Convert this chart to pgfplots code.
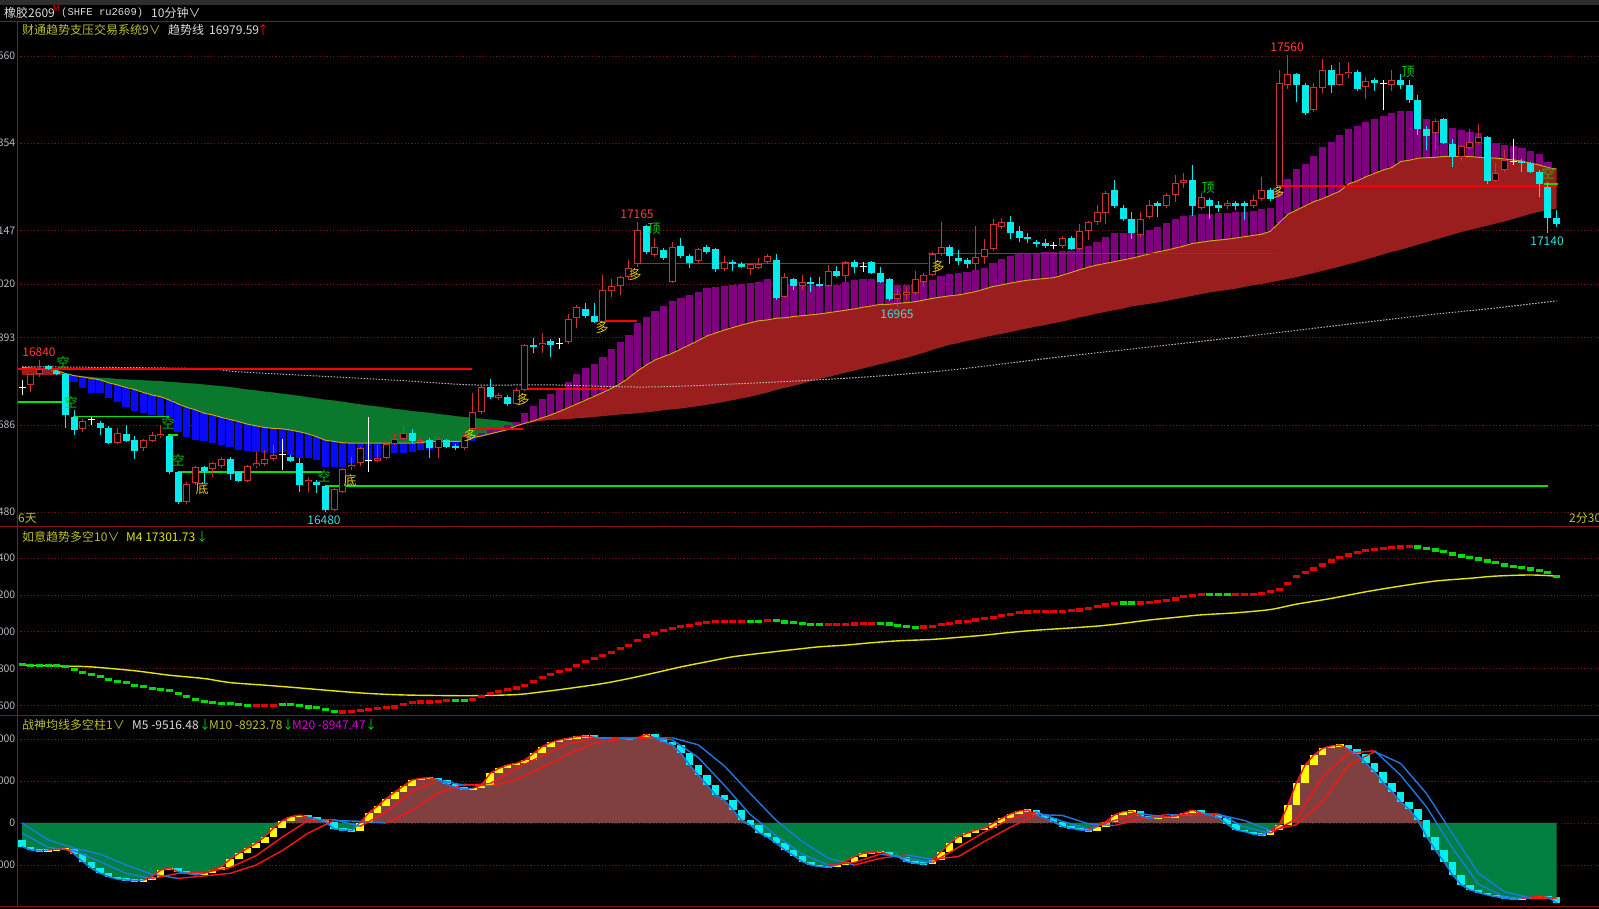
\documentclass[border=0pt]{standalone}
\usepackage{fontspec}
\setmainfont{Noto Sans CJK SC}
\newfontfamily\mono{Liberation Mono}
\usepackage{pgfplots}
\usepackage{pgfplotstable}
\pgfplotsset{compat=1.18}

\definecolor{gridc}{RGB}{115,20,20}
\definecolor{borderc}{RGB}{140,20,20}
\definecolor{tickc}{RGB}{185,185,195}
\definecolor{hdr}{RGB}{190,190,50}
\definecolor{candred}{RGB}{205,50,50}
\definecolor{candcyan}{RGB}{0,235,235}
\definecolor{barpurple}{RGB}{128,0,128}
\definecolor{barblue}{RGB}{10,10,250}
\definecolor{cloudred}{RGB}{155,30,30}
\definecolor{cloudgreen}{RGB}{10,120,45}
\definecolor{aline}{RGB}{210,165,0}
\definecolor{lred}{RGB}{255,0,0}
\definecolor{lgreen}{RGB}{0,230,0}
\definecolor{dline}{RGB}{185,185,185}
\definecolor{labred}{RGB}{255,60,60}
\definecolor{labcyan}{RGB}{60,220,220}
\definecolor{sigyellow}{RGB}{230,200,0}
\definecolor{siggreen}{RGB}{0,200,0}
\definecolor{myellow}{RGB}{230,230,0}
\definecolor{mred}{RGB}{230,0,0}
\definecolor{mgreen}{RGB}{0,220,0}
\definecolor{brn}{RGB}{128,64,64}
\definecolor{grn}{RGB}{0,128,64}
\definecolor{byellow}{RGB}{255,255,0}
\definecolor{bcyan}{RGB}{0,240,240}
\definecolor{rline}{RGB}{255,20,20}
\definecolor{bline}{RGB}{30,120,230}
\definecolor{mag}{RGB}{220,0,220}
\definecolor{textw}{RGB}{220,220,220}

\pgfplotsset{
  colormap={rb}{color=(bline) color=(rline)},
  panel/.style={
    scale only axis, anchor=south west, width=1582pt,
    xmin=-0.577, xmax=181.89,
    axis line style={draw=none},
    major tick length=0pt,
    xtick=\empty,
    scaled y ticks=false,
    ymajorgrids,
    grid style={draw=gridc, line width=0.8pt, dash pattern=on 1.2pt off 2.2pt},
    yticklabel style={font=\fontsize{10.5}{12}\selectfont, text=tickc, anchor=east, inner sep=0pt, xshift=-1.5pt},
    clip=true,
  },
  ebar/.style 2 args={draw=none, mark=none, forget plot,
    error bars/.cd, y dir=both, y explicit, error mark=none,
    error bar style={draw=#1, line width=#2}},
}

% candles: index, open, high, low, close, fast edge a, bar end t, slow edge b
\pgfplotstableread{
i o h l c a t b
0 16775 16793 16757 16775 16822 16822 16805
1 16781 16808 16765 16808 16821 16821 16805
2 16807 16840 16800 16818 16820 16820 16805
3 16826 16828 16816 16818 16818 16818 16805
4 16815 16817 16805 16807 16815 16815 16804
5 16808 16810 16680 16710 16808 16789 16804
6 16704 16722 16662 16674 16803 16789 16803
7 16676 16700 16670 16696 16800 16773 16801
8 16698 16706 16686 16698 16796 16761 16800
9 16691 16695 16662 16680 16793 16761 16798
10 16680 16684 16640 16644 16786 16749 16797
11 16644 16680 16640 16666 16781 16741 16795
12 16666 16686 16645 16649 16775 16728 16794
13 16650 16660 16605 16624 16770 16720 16793
14 16631 16652 16625 16650 16763 16714 16792
15 16648 16670 16645 16662 16757 16710 16791
16 16660 16686 16656 16666 16753 16707 16790
17 16661 16665 16570 16575 16745 16702 16788
18 16575 16578 16500 16504 16736 16670 16787
19 16504 16550 16500 16546 16728 16657 16785
20 16549 16590 16545 16586 16722 16650 16784
21 16586 16590 16549 16578 16714 16647 16782
22 16581 16598 16564 16595 16710 16644 16780
23 16589 16611 16585 16605 16704 16639 16778
24 16605 16611 16556 16571 16699 16635 16776
25 16575 16578 16550 16554 16694 16627 16773
26 16554 16592 16550 16590 16688 16625 16770
27 16589 16623 16585 16595 16684 16623 16768
28 16594 16627 16590 16605 16680 16620 16765
29 16605 16639 16600 16614 16678 16619 16763
30 16615 16654 16579 16615 16677 16623 16760
31 16611 16615 16598 16601 16674 16615 16758
32 16595 16607 16528 16545 16670 16607 16755
33 16550 16564 16528 16556 16665 16607 16752
34 16550 16555 16524 16545 16658 16602 16749
35 16541 16545 16480 16485 16650 16587 16746
36 16485 16538 16482 16534 16647 16586 16744
37 16528 16585 16525 16581 16644 16587 16741
38 16586 16611 16579 16591 16643 16595 16738
39 16595 16635 16590 16631 16643 16599 16735
40 16601 16704 16575 16601 16643 16599 16732
41 16601 16639 16598 16609 16643 16611 16730
42 16609 16645 16605 16641 16643 16611 16727
43 16642 16666 16638 16654 16643 16619 16724
44 16654 16686 16650 16666 16643 16619 16722
45 16666 16676 16644 16647 16643 16623 16719
46 16647 16655 16642 16651 16644 16627 16717
47 16651 16655 16607 16631 16647 16627 16715
48 16631 16658 16607 16654 16647 16635 16712
49 16650 16653 16632 16635 16647 16633 16710
50 16637 16640 16628 16631 16647 16636 16707
51 16631 16664 16628 16660 16648 16639 16705
52 16676 16761 16674 16716 16656 16648 16703
53 16716 16779 16712 16775 16660 16668 16701
54 16777 16795 16748 16752 16665 16674 16699
55 16751 16761 16745 16757 16670 16680 16697
56 16752 16756 16732 16736 16675 16686 16694
57 16736 16773 16733 16770 16684 16692 16690
58 16770 16879 16766 16875 16690 16714 16690
59 16875 16891 16856 16870 16696 16731 16693
60 16875 16905 16856 16881 16703 16747 16696
61 16886 16890 16846 16875 16710 16759 16698
62 16879 16891 16867 16879 16718 16771 16699
63 16883 16950 16878 16936 16727 16789 16700
64 16940 16970 16916 16966 16736 16807 16702
65 16961 16974 16940 16945 16745 16820 16703
66 16945 16974 16928 16931 16754 16831 16705
67 16931 17041 16928 17006 16763 16848 16707
68 17004 17031 16990 17016 16773 16865 16709
69 17016 17040 16995 17036 16784 16882 16711
70 17036 17077 17030 17059 16798 16899 16712
71 17067 17166 17060 17149 16814 16927 16714
72 17157 17160 17090 17097 16828 16943 16716
73 17089 17128 17085 17107 16840 16957 16718
74 17100 17105 17076 17081 16848 16968 16721
75 17025 17120 17022 17107 16856 16980 16723
76 17111 17128 17082 17086 16866 16988 16725
77 17086 17090 17059 17070 16876 16994 16728
78 17075 17105 17070 17102 16886 17002 16731
79 17107 17112 17092 17097 16897 17010 16734
80 17102 17106 17049 17055 16904 17012 16737
81 17055 17086 17050 17071 16911 17015 16741
82 17073 17076 17052 17067 16917 17018 16745
83 17067 17071 17058 17061 16923 17020 16749
84 17055 17070 17041 17067 16928 17023 16753
85 17059 17081 17055 17067 16933 17025 16758
86 17071 17091 17068 17086 16935 17031 16763
87 17077 17091 16982 16986 16939 17025 16769
88 16990 17045 16987 17036 16940 17020 16774
89 17031 17034 17005 17016 16943 17018 16779
90 17016 17041 17005 17025 16945 17018 16784
91 17025 17036 17002 17019 16947 17018 16790
92 17021 17036 17013 17016 16949 17018 16795
93 17016 17065 17012 17051 16952 17018 16800
94 17051 17062 17036 17040 16955 17018 16805
95 17040 17075 17025 17071 16958 17025 16810
96 17071 17076 17045 17061 16961 17029 16815
97 17061 17073 17049 17061 16965 17032 16820
98 17071 17075 17044 17047 16968 17031 16825
99 17047 17060 17022 17025 16972 17025 16830
100 17031 17035 16980 16984 16972 17020 16835
101 16984 17007 16965 16996 16974 17018 16840
102 16995 17014 16982 17001 16976 17018 16845
103 16999 17051 16995 17031 16978 17020 16851
104 17025 17045 17014 17041 16982 17025 16857
105 17041 17096 17038 17090 16986 17029 16864
106 17090 17166 17086 17107 16989 17039 16870
107 17107 17112 17067 17086 16992 17044 16876
108 17081 17100 17065 17075 16994 17047 16880
109 17077 17081 17059 17067 16998 17048 16885
110 17067 17157 17052 17085 17002 17052 16889
111 17085 17127 17067 17102 17008 17057 16894
112 17102 17175 17098 17162 17014 17069 16898
113 17156 17177 17150 17166 17018 17079 16902
114 17166 17181 17127 17140 17022 17086 16906
115 17146 17157 17120 17130 17026 17091 16911
116 17132 17140 17116 17126 17029 17093 16915
117 17120 17124 17108 17115 17031 17094 16919
118 17116 17126 17106 17110 17033 17095 16923
119 17112 17120 17104 17112 17035 17097 16927
120 17110 17134 17106 17130 17041 17097 16931
121 17130 17133 17100 17104 17047 17099 16936
122 17104 17162 17100 17146 17054 17104 16941
123 17146 17170 17124 17166 17060 17110 16945
124 17166 17207 17160 17191 17065 17120 16950
125 17187 17240 17162 17236 17069 17132 16954
126 17243 17266 17200 17205 17073 17140 16958
127 17201 17207 17170 17174 17077 17142 16962
128 17175 17191 17126 17140 17081 17144 16967
129 17136 17191 17132 17175 17086 17146 16970
130 17179 17220 17175 17207 17091 17149 16973
131 17213 17216 17179 17205 17096 17156 16976
132 17205 17236 17200 17231 17100 17164 16980
133 17231 17278 17215 17260 17105 17173 16984
134 17260 17282 17247 17266 17110 17182 16988
135 17266 17302 17180 17205 17116 17183 16992
136 17201 17235 17196 17225 17119 17187 16996
137 17220 17224 17175 17205 17122 17187 17000
138 17207 17216 17191 17201 17124 17189 17003
139 17205 17220 17197 17213 17126 17189 17006
140 17213 17216 17195 17205 17129 17191 17009
141 17213 17216 17172 17205 17132 17191 17013
142 17205 17231 17200 17220 17135 17194 17017
143 17221 17273 17216 17243 17138 17198 17020
144 17243 17247 17217 17221 17145 17199 17024
145 17252 17527 17248 17497 17165 17240 17028
146 17491 17562 17481 17517 17185 17268 17032
147 17517 17520 17452 17491 17195 17292 17036
148 17491 17495 17420 17426 17205 17304 17041
149 17431 17497 17428 17487 17215 17323 17046
150 17484 17552 17472 17527 17222 17344 17051
151 17527 17539 17472 17491 17231 17357 17056
152 17491 17545 17488 17517 17240 17373 17061
153 17517 17547 17507 17523 17257 17387 17067
154 17523 17526 17478 17481 17264 17394 17072
155 17486 17511 17457 17502 17274 17404 17078
156 17502 17507 17478 17495 17282 17411 17084
157 17495 17503 17431 17495 17290 17418 17090
158 17491 17527 17477 17502 17296 17424 17096
159 17502 17517 17481 17491 17310 17429 17101
160 17491 17502 17448 17456 17313 17429 17107
161 17457 17468 17373 17386 17318 17412 17113
162 17386 17393 17337 17371 17319 17410 17119
163 17377 17410 17337 17407 17320 17407 17125
164 17410 17413 17352 17355 17322 17410 17131
165 17352 17363 17296 17320 17322 17390 17137
166 17320 17350 17312 17347 17322 17385 17143
167 17341 17386 17337 17357 17322 17380 17148
168 17353 17400 17350 17367 17320 17377 17153
169 17367 17370 17257 17265 17319 17365 17158
170 17265 17306 17262 17282 17318 17355 17163
171 17290 17337 17286 17314 17316 17349 17168
172 17310 17363 17302 17310 17314 17347 17174
173 17312 17316 17286 17307 17311 17341 17180
174 17307 17310 17282 17286 17306 17336 17186
175 17286 17290 17227 17257 17302 17328 17191
176 17250 17262 17140 17176 17296 17310 17195
177 17176 17195 17156 17161 17292 17292 17199
}\pk

% trend line (dotted)
\pgfplotstableread{
i d
0 16824
20 16820
25 16812
36 16800
44 16791
52 16781
61 16781
72 16776
84 16785
96 16798
107 16816
120 16848
139 16891
161 16944
169 16961
177 16980
}\pd

% panel 2: M4 line
\pgfplotstableread{
i y
0 16819
5 16814
8 16810
13 16789
17 16765
21 16747
24 16725
28 16711
32 16696
36 16680
40 16666
44 16658
48 16655
52 16654
57 16660
60 16675
63 16693
67 16720
70 16747
73 16778
76 16810
79 16838
82 16865
86 16888
89 16904
92 16919
95 16928
98 16941
101 16951
105 16959
108 16970
111 16982
114 16997
117 17009
120 17018
124 17031
127 17046
130 17064
133 17078
136 17092
140 17103
144 17121
147 17150
151 17181
155 17217
159 17248
163 17275
167 17290
170 17302
174 17308
177 17302
}\pmy

% panel 2: steps, u=1 rising (red), u=0 falling (green)
\pgfplotstableread{
i v u
0 16825 0
1 16819 0
2 16819 0
3 16819 0
4 16818 0
5 16810 0
6 16796 0
7 16778 0
8 16769 0
9 16756 0
10 16743 0
11 16731 0
12 16724 0
13 16711 0
14 16702 0
15 16693 0
16 16687 0
17 16680 0
18 16666 0
19 16648 0
20 16633 0
21 16624 0
22 16617 0
23 16611 0
24 16611 0
25 16606 0
26 16602 0
27 16599 1
28 16599 1
29 16602 1
30 16606 0
31 16606 0
32 16600 0
33 16593 0
34 16588 0
35 16579 0
36 16568 0
37 16566 1
38 16568 1
39 16573 1
40 16579 1
41 16584 1
42 16588 1
43 16593 1
44 16606 1
45 16615 1
46 16620 1
47 16620 1
48 16622 1
49 16626 1
50 16628 0
51 16629 0
52 16635 1
53 16648 1
54 16666 1
55 16677 1
56 16687 1
57 16696 1
58 16711 1
59 16733 1
60 16753 1
61 16769 1
62 16783 1
63 16798 1
64 16819 1
65 16839 1
66 16856 1
67 16870 1
68 16890 1
69 16908 1
70 16926 1
71 16951 1
72 16977 1
73 16991 1
74 17009 1
75 17018 1
76 17027 1
77 17036 1
78 17044 1
79 17051 1
80 17056 1
81 17056 1
82 17058 1
83 17058 1
84 17058 0
85 17058 0
86 17062 1
87 17060 0
88 17053 0
89 17049 0
90 17045 0
91 17040 0
92 17038 0
93 17038 1
94 17038 1
95 17040 1
96 17042 1
97 17044 1
98 17045 1
99 17045 0
100 17042 0
101 17036 0
102 17029 0
103 17024 0
104 17026 1
105 17031 1
106 17040 1
107 17047 1
108 17053 1
109 17058 1
110 17064 1
111 17071 1
112 17078 1
113 17087 1
114 17096 1
115 17103 1
116 17107 1
117 17109 1
118 17111 1
119 17111 1
120 17112 1
121 17114 1
122 17118 1
123 17127 1
124 17136 1
125 17145 1
126 17152 1
127 17156 0
128 17156 0
129 17156 1
130 17161 1
131 17165 1
132 17170 1
133 17178 1
134 17190 1
135 17197 1
136 17201 1
137 17203 0
138 17203 0
139 17203 0
140 17203 1
141 17201 1
142 17203 1
143 17208 1
144 17217 1
145 17230 1
146 17262 1
147 17299 1
148 17320 1
149 17340 1
150 17362 1
151 17384 1
152 17402 1
153 17416 1
154 17431 1
155 17440 1
156 17447 1
157 17452 1
158 17456 1
159 17460 1
160 17461 1
161 17460 0
162 17452 0
163 17443 0
164 17434 0
165 17422 0
166 17411 0
167 17404 0
168 17395 0
169 17384 0
170 17375 0
171 17362 0
172 17353 0
173 17348 0
174 17340 0
175 17331 0
176 17320 0
177 17299 0
}\pmk

% panel 3: M5 (m) and previous value (q)
\pgfplotstableread{
i m q
0 -2816 -2000
1 -3213 -2816
2 -3290 -3213
3 -3213 -3290
4 -3134 -3213
5 -3100 -3134
6 -3690 -3100
7 -4600 -3690
8 -5395 -4600
9 -5990 -5395
10 -6387 -5990
11 -6705 -6387
12 -6784 -6705
13 -6863 -6784
14 -6800 -6863
15 -6387 -6800
16 -5594 -6387
17 -5396 -5594
18 -5792 -5396
19 -5990 -5792
20 -6190 -5990
21 -5990 -6190
22 -5594 -5990
23 -5197 -5594
24 -4323 -5197
25 -3610 -4323
26 -3015 -3610
27 -2420 -3015
28 -1626 -2420
29 -634 -1626
30 278 -634
31 755 278
32 953 755
33 675 953
34 437 675
35 160 437
36 -713 160
37 -833 -713
38 -912 -833
39 40 -912
40 1232 40
41 2025 1232
42 2900 2025
43 3700 2900
44 4406 3700
45 5120 4406
46 5318 5120
47 5398 5318
48 5120 5398
49 4644 5120
50 4247 4644
51 4009 4247
52 4128 4009
53 4525 4128
54 5914 4525
55 6509 5914
56 6906 6509
57 7104 6906
58 7501 7104
59 8295 7501
60 9088 8295
61 9604 9088
62 9882 9604
63 10080 9882
64 10279 10080
65 10358 10279
66 10199 10358
67 10080 10199
68 10100 10080
69 10080 10100
70 10060 10080
71 10120 10060
72 10556 10120
73 10080 10556
74 9683 10080
75 9287 9683
76 8295 9287
77 6906 8295
78 5716 6906
79 4525 5716
80 3334 4525
81 2740 3334
82 1549 2740
83 359 1549
84 -237 359
85 -1150 -237
86 -1705 -1150
87 -2419 -1705
88 -3213 -2419
89 -3888 -3213
90 -4601 -3888
91 -5000 -4601
92 -5197 -5000
93 -5276 -5197
94 -5000 -5276
95 -4601 -5000
96 -4006 -4601
97 -3610 -4006
98 -3530 -3610
99 -3411 -3530
100 -3808 -3411
101 -4006 -3808
102 -4601 -4006
103 -4800 -4601
104 -4879 -4800
105 -4403 -4879
106 -3411 -4403
107 -2419 -3411
108 -1626 -2419
109 -1230 -1626
110 -833 -1230
111 -634 -833
112 -40 -634
113 557 -40
114 1073 557
115 1430 1073
116 1549 1430
117 954 1549
118 557 954
119 160 557
120 -435 160
121 -634 -435
122 -833 -634
123 -912 -833
124 -435 -912
125 160 -435
126 954 160
127 1351 954
128 1400 1351
129 835 1400
130 557 835
131 676 557
132 756 676
133 835 756
134 1152 835
135 1549 1152
136 1200 1549
137 950 1200
138 650 950
139 -150 650
140 -840 -150
141 -1030 -840
142 -1350 -1030
143 -1430 -1350
144 -830 -1430
145 -240 -830
146 2145 -240
147 4804 2145
148 6908 4804
149 8098 6908
150 8890 8098
151 9170 8890
152 9290 9170
153 8770 9290
154 8217 8770
155 7106 8217
156 6114 7106
157 4804 6114
158 3733 4804
159 2543 3733
160 1630 2543
161 360 1630
162 -1624 360
163 -3211 -1624
164 -4600 -3211
165 -6190 -4600
166 -7377 -6190
167 -7973 -7377
168 -8290 -7973
169 -8568 -8290
170 -8766 -8568
171 -8965 -8766
172 -9083 -8965
173 -8965 -9083
174 -8846 -8965
175 -8766 -8846
176 -8846 -8766
177 -9516 -8846
}\pc

% M10 and M20, r=1 rising (red), r=0 falling (blue)
\pgfplotstableread{
i v r
0 -1200 0
3 -2900 0
6 -3300 0
9 -4600 0
12 -6000 0
15 -6600 1
18 -6000 1
21 -5900 1
24 -5300 1
27 -3900 1
30 -1700 1
33 300 1
36 400 0
39 -400 1
42 1300 1
45 3800 1
48 5100 0
51 4500 1
54 4700 1
57 6500 1
60 8000 1
63 9400 1
66 10100 1
69 10150 1
72 10200 0
75 9900 0
78 7800 0
81 4500 0
84 1000 0
87 -1500 0
90 -3700 0
93 -5000 1
96 -4700 1
99 -3700 0
102 -4200 0
105 -4700 1
108 -2900 1
111 -1100 1
114 500 1
117 1300 0
120 200 0
123 -700 1
126 300 1
129 1100 0
132 700 1
135 1100 1
138 1100 0
141 -500 0
144 -1200 1
147 500 1
150 5500 1
153 8300 1
156 8600 0
159 5700 0
162 1900 0
165 -3000 0
168 -7300 0
171 -8800 0
174 -9000 1
177 -8924 1
}\pten

\pgfplotstableread{
i v r
0 0 0
3 -2000 0
6 -3000 0
9 -3700 0
12 -5000 0
15 -6100 0
18 -6600 1
21 -6300 1
24 -6000 1
27 -5000 1
30 -3300 1
33 -1200 1
36 300 0
39 200 0
42 0 1
45 1500 1
48 3600 1
51 4600 0
54 4400 1
57 5200 1
60 6600 1
63 8200 1
66 9500 1
69 10000 1
72 10100 1
75 10150 0
78 9300 0
81 6800 0
84 3500 0
87 300 0
90 -2200 0
93 -4200 0
96 -5000 1
99 -4200 1
102 -3800 0
105 -4300 1
108 -4000 1
111 -2200 1
114 -500 1
117 1000 0
120 900 0
123 -100 0
126 -300 1
129 500 1
132 1000 0
135 900 1
138 1000 0
141 300 0
144 -900 1
147 -200 1
150 2500 1
153 6900 1
156 8500 0
159 7100 0
162 3500 0
165 -1300 0
168 -6000 0
171 -8200 0
174 -8900 1
177 -8947 1
}\ptw

\begin{document}
\begin{tikzpicture}
\fill[black] (0pt,0pt) rectangle (1599pt,909pt);
\fill[black!82] (0pt,904pt) rectangle (1599pt,909pt);

% ---------------- panel 1: candles and trend system
\begin{axis}[panel, at={(17pt,382pt)}, height=505pt,
  ymin=16444.5, ymax=17640.5,
  ytick={16480,16686,16893,17020,17147,17354,17560},
  yticklabels={16480,16686,16893,17020,17147,17354,17560}]
% cloud between slow edge b and fast edge a (stacked areas)
\addplot[draw=none, stack plots=y, forget plot] table[x=i, y=b]{\pk};
\addplot[fill=cloudred, draw=none, stack plots=y, forget plot]
  table[x=i, y expr={max(\thisrow{a}-\thisrow{b},0)}]{\pk} \closedcycle;
\addplot[fill=cloudgreen, draw=none, stack plots=y, forget plot]
  table[x=i, y expr={min(\thisrow{a}-\thisrow{b},0)}]{\pk} \closedcycle;
% bars from the fast edge
\addplot[restrict expr to domain={\thisrow{a}-\thisrow{t}}{0.5:9999}, ebar={barblue}{7.2pt}]
  table[x=i, y expr={(\thisrow{a}+\thisrow{t})/2}, y error expr={(\thisrow{a}-\thisrow{t})/2}]{\pk};
\addplot[restrict expr to domain={\thisrow{t}-\thisrow{a}}{0.5:9999}, ebar={barpurple}{7.2pt}]
  table[x=i, y expr={(\thisrow{a}+\thisrow{t})/2}, y error expr={(\thisrow{t}-\thisrow{a})/2}]{\pk};
\addplot[aline, line width=1pt, forget plot] table[x=i,y=a]{\pk};
\addplot[dline, line width=1pt, dash pattern=on 1.5pt off 1.5pt, smooth, forget plot] table[x=i,y=d]{\pd};
% support and resistance lines
\draw[lred, line width=1.5pt] (axis cs:-0.6,16819) -- (axis cs:51.9,16819);
\draw[lred, line width=1.5pt] (axis cs:51.9,16676) -- (axis cs:57.8,16676);
\draw[lred, line width=1.5pt] (axis cs:57.8,16771) -- (axis cs:67.5,16771);
\draw[lred, line width=1.5pt] (axis cs:66.9,16932) -- (axis cs:70.9,16932);
\draw[lred, line width=1.5pt] (axis cs:71,17069) -- (axis cs:104.5,17069);
\draw[lred, line width=1.5pt] (axis cs:104.5,17092) -- (axis cs:145,17092);
\draw[lred, line width=1.5pt] (axis cs:145,17252) -- (axis cs:177,17252);
\draw[lgreen, line width=1.5pt] (axis cs:-0.6,16741) -- (axis cs:5,16741);
\draw[lgreen, line width=1.5pt] (axis cs:5.9,16706) -- (axis cs:17,16706);
\draw[lgreen, line width=1.5pt] (axis cs:16.8,16662) -- (axis cs:18,16662);
\draw[lgreen, line width=1.5pt] (axis cs:18,16575) -- (axis cs:34.6,16575);
\draw[lgreen, line width=1.5pt] (axis cs:35,16542) -- (axis cs:176,16542);
\draw[lgreen, line width=1.5pt] (axis cs:175.5,17257) -- (axis cs:177.2,17257);
% up candles: hollow red
\addplot[restrict expr to domain={\thisrow{c}-\thisrow{o}}{0.5:9999}, ebar={candred}{1pt}]
  table[x=i, y expr={(\thisrow{h}+\thisrow{l})/2}, y error expr={(\thisrow{h}-\thisrow{l})/2}]{\pk};
\addplot[restrict expr to domain={\thisrow{c}-\thisrow{o}}{0.5:9999}, ebar={candred}{7pt}]
  table[x=i, y expr={(\thisrow{o}+\thisrow{c})/2}, y error expr={(\thisrow{c}-\thisrow{o})/2}]{\pk};
\addplot[restrict expr to domain={\thisrow{c}-\thisrow{o}}{0.5:9999}, ebar={black}{5pt}]
  table[x=i, y expr={(\thisrow{o}+\thisrow{c})/2}, y error expr={max((\thisrow{c}-\thisrow{o})/2-2.4,0)}]{\pk};
% down candles: filled cyan
\addplot[restrict expr to domain={\thisrow{c}-\thisrow{o}}{-9999:-0.5}, ebar={candcyan}{1pt}]
  table[x=i, y expr={(\thisrow{h}+\thisrow{l})/2}, y error expr={(\thisrow{h}-\thisrow{l})/2}]{\pk};
\addplot[restrict expr to domain={\thisrow{c}-\thisrow{o}}{-9999:-0.5}, ebar={candcyan}{7pt}]
  table[x=i, y expr={(\thisrow{o}+\thisrow{c})/2}, y error expr={(\thisrow{o}-\thisrow{c})/2}]{\pk};
% doji: white cross
\addplot[restrict expr to domain={\thisrow{c}-\thisrow{o}}{-0.4:0.4}, ebar={white}{1pt}]
  table[x=i, y expr={(\thisrow{h}+\thisrow{l})/2}, y error expr={(\thisrow{h}-\thisrow{l})/2}]{\pk};
\addplot[only marks, mark=-, mark size=3.5pt, mark options={draw=white, line width=1pt}, forget plot,
  restrict expr to domain={\thisrow{c}-\thisrow{o}}{-0.4:0.4}] table[x=i,y=c]{\pk};
\end{axis}

% ---------------- panel 2
\begin{axis}[panel, at={(17pt,193pt)}, height=189pt,
  ymin=16544, ymax=17568,
  ytick={16600,16800,17000,17200,17400},
  yticklabels={16600,16800,17000,17200,17400}]
\addplot[myellow, line width=1.4pt, smooth, forget plot] table[x=i,y=y]{\pmy};
\addplot[only marks, mark=-, mark size=3.5pt, mark options={draw=mgreen, line width=3.2pt}, forget plot,
  restrict expr to domain={\thisrow{u}}{-0.5:0.5}] table[x=i,y=v]{\pmk};
\addplot[only marks, mark=-, mark size=3.5pt, mark options={draw=mred, line width=3.2pt}, forget plot,
  restrict expr to domain={\thisrow{u}}{0.5:1.5}] table[x=i,y=v]{\pmk};
\end{axis}

% ---------------- panel 3
\begin{axis}[panel, at={(17pt,2pt)}, height=191pt,
  ymin=-10000, ymax=12738,
  ytick={-5000,0,5000,10000},
  yticklabels={-5000,0,5000,10000},
  colormap name=rb, point meta min=0, point meta max=1]
\addplot[fill=brn, draw=none, forget plot] table[x=i, y expr={max(\thisrow{m},0)}]{\pc} \closedcycle;
\addplot[fill=grn, draw=none, forget plot] table[x=i, y expr={min(\thisrow{m},0)}]{\pc} \closedcycle;
\addplot[restrict expr to domain={\thisrow{m}-\thisrow{q}}{0:99999}, ebar={byellow}{7.5pt}]
  table[x=i, y expr={(\thisrow{m}+\thisrow{q})/2}, y error expr={max(abs(\thisrow{m}-\thisrow{q})/2,150)}]{\pc};
\addplot[restrict expr to domain={\thisrow{m}-\thisrow{q}}{-99999:-0.01}, ebar={bcyan}{7.5pt}]
  table[x=i, y expr={(\thisrow{m}+\thisrow{q})/2}, y error expr={max(abs(\thisrow{m}-\thisrow{q})/2,150)}]{\pc};
\addplot[mesh, shader=flat corner, line width=1.4pt, point meta=\thisrow{r}, forget plot] table[x=i,y=v]{\ptw};
\addplot[mesh, shader=flat corner, line width=1.4pt, point meta=\thisrow{r}, forget plot] table[x=i,y=v]{\pten};
\addplot[mesh, shader=flat corner, line width=1.4pt, point meta={\thisrow{m}>\thisrow{q}}, forget plot] table[x=i,y=m]{\pc};
\end{axis}

% ---------------- frame and texts
\begin{scope}[x=1pt,y=1pt]
\draw[borderc, line width=1pt] (0,887) -- (1599,887);
\draw[borderc, line width=1pt] (0,382) -- (1599,382);
\draw[borderc, line width=1pt] (0,193) -- (1599,193);
\draw[borderc, line width=1pt] (0,2) -- (1599,2);
\draw[borderc, line width=1pt] (17,887) -- (17,2);

\tikzset{t/.style={anchor=west, inner sep=0pt, font=\fontsize{12}{14}\selectfont}}
% top bar
\node[t, text=textw] at (4,896) {橡胶2609};
\node[t, text=lred, font=\fontsize{8}{9}\selectfont] at (53,900) {M};
\node[t, text=textw, font=\mono\fontsize{10.5}{12}\selectfont] at (61,896) {(SHFE ru2609)};
\node[t, text=textw] at (151,896) {10分钟∨};
% panel headers
\node[t, text=hdr] at (22,879) {财通趋势支压交易系统9∨};
\node[t, text=textw] at (168,879) {趋势线};
\node[t, text=textw] at (209,879) {16979.59};
\node[t, text=lred] at (257,879) {↑};
\node[t, text=hdr] at (22,372) {如意趋势多空10∨};
\node[t, text=myellow] at (126,372) {M4 17301.73};
\node[t, text=mgreen] at (196,372) {↓};
\node[t, text=hdr] at (22,184) {战神均线多空柱1∨};
\node[t, text=textw] at (132,184) {M5 -9516.48};
\node[t, text=mgreen] at (199,184) {↓};
\node[t, text=hdr] at (209,184) {M10 -8923.78};
\node[t, text=mgreen] at (282,184) {↓};
\node[t, text=mag] at (292,184) {M20 -8947.47};
\node[t, text=mgreen] at (365,184) {↓};
\node[t, text=hdr] at (18,391) {6天};
\node[t, text=hdr] at (1569,391) {2分30};
% extreme prices
\tikzset{p/.style={inner sep=0pt, font=\fontsize{12}{14}\selectfont}}
\node[p, text=labred] at (39,557) {16840};
\node[p, text=labred] at (637,695) {17165};
\node[p, text=labred] at (1287,862) {17560};
\node[p, text=labcyan] at (324,389) {16480};
\node[p, text=labcyan] at (897,595) {16965};
\node[p, text=labcyan] at (1547,668) {17140};
% signals
\tikzset{s/.style={inner sep=0pt, font=\fontsize{13}{14}\selectfont}}
\node[s, text=siggreen] at (63,547) {空};
\node[s, text=siggreen] at (71,507) {空};
\node[s, text=siggreen] at (168,486) {空};
\node[s, text=siggreen] at (178,449) {空};
\node[s, text=sigyellow] at (202,420) {底};
\node[s, text=siggreen] at (324,433) {空};
\node[s, text=sigyellow] at (350,428) {底};
\node[s, text=sigyellow] at (470,473) {多};
\node[s, text=sigyellow] at (523,509) {多};
\node[s, text=sigyellow] at (602,581) {多};
\node[s, text=sigyellow] at (635,634) {多};
\node[s, text=siggreen] at (654,680) {顶};
\node[s, text=sigyellow] at (938,642) {多};
\node[s, text=siggreen] at (1208,721) {顶};
\node[s, text=sigyellow] at (1278,716) {多};
\node[s, text=siggreen] at (1408,837) {顶};
\node[s, text=siggreen] at (1548,736) {空};
\end{scope}
\pgfresetboundingbox
\path[use as bounding box] (0pt,0pt) rectangle (1599pt,909pt);
\end{tikzpicture}
\end{document}
